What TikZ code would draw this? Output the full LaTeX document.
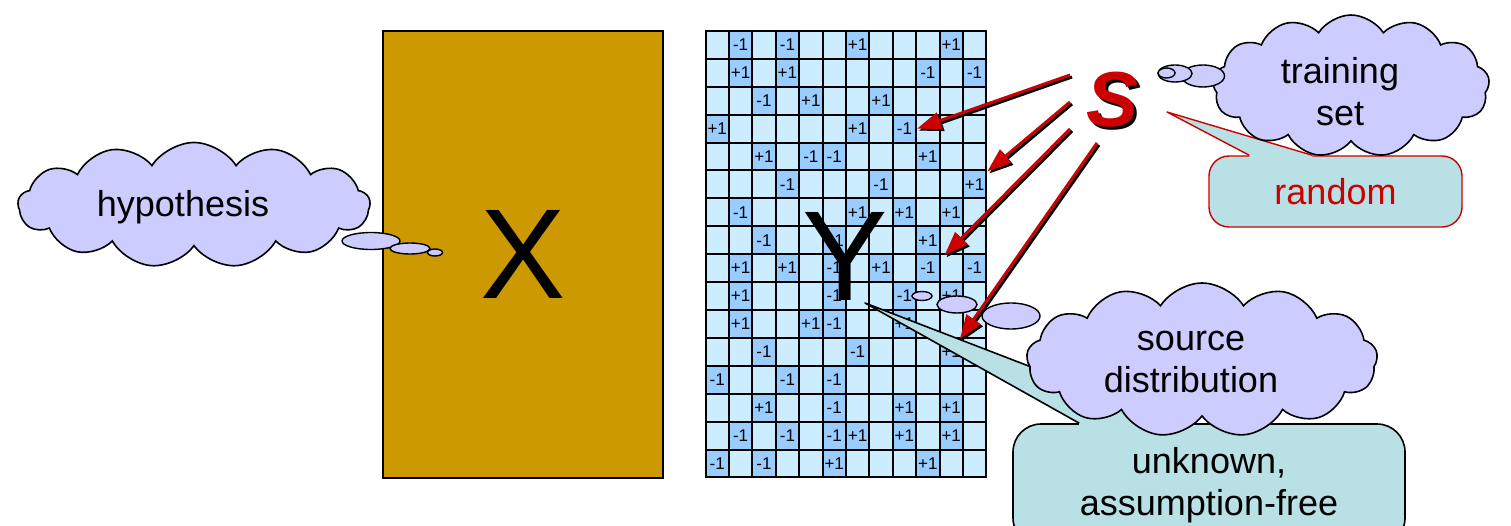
\documentclass[tikz,border=0pt]{standalone}
\usepackage{fontspec}
\setmainfont{Liberation Sans}
\usetikzlibrary{arrows.meta,calc,shapes.symbols,shapes.geometric}
\definecolor{boxochre}{RGB}{204,153,0}
\definecolor{celllight}{RGB}{204,236,255}
\definecolor{celldark}{RGB}{153,204,255}
\definecolor{cloudlilac}{RGB}{204,204,255}
\definecolor{calloutteal}{RGB}{185,224,228}
\definecolor{signalred}{RGB}{204,0,0}
\tikzset{
  thought/.style={cloud,cloud puffs=13,cloud puff arc=115,cloud ignores aspect,
    draw=black,line width=1.6pt,fill=cloudlilac,inner sep=0pt},
  cloudtext/.style={align=center,inner sep=0pt,font=\fontsize{36}{42}\selectfont},
  puff/.style={ellipse,draw=black,line width=1.4pt,fill=cloudlilac,inner sep=0pt},
  cellbox/.style={draw=black,line width=2pt,minimum width=23.4pt,
    minimum height=27.9pt,inner sep=0pt,fill=celllight,
    font=\fontsize{17}{17}\selectfont},
  marked/.style={cellbox,fill=celldark},
  notebox/.style={draw=black,line width=1.6pt,fill=calloutteal,align=center,
    rounded corners=28pt,font=\fontsize{36}{42}\selectfont},
  bigletter/.style={font=\fontsize{128}{128}\selectfont,inner sep=0pt},
  samplearrow/.style={-{Triangle[length=24pt,width=17pt]},line width=3pt,
    draw=signalred,fill=signalred},
  shadowarrow/.style={samplearrow,draw=black,fill=black}
}

\begin{document}
\begin{tikzpicture}[x=1pt,y=-1pt]
  \useasboundingbox (0,0) rectangle (1511,526);
  % instance space X
  \node[draw=black,line width=1.5pt,fill=boxochre,minimum width=280pt,
    minimum height=447pt,font=\fontsize{128}{128}\selectfont,inner sep=0pt]
    (xbox) at (523,254.5) {X};
  % label grid Y
  \foreach \r in {1,...,16}
    \foreach \c in {1,...,12}
      \node[cellbox] (cell-\r-\c) at ({705.5+23.4*(\c-0.5)},{31+27.9*(\r-0.5)}) {};
  \foreach \r/\c/\v in {1/2/-1,1/4/-1,1/7/+1,1/11/+1,2/2/+1,2/4/+1,2/10/-1,2/12/-1,
      3/3/-1,3/5/+1,3/8/+1,4/1/+1,4/7/+1,4/9/-1,5/3/+1,5/5/-1,5/6/-1,5/10/+1,
      6/4/-1,6/8/-1,6/12/+1,7/2/-1,7/7/+1,7/9/+1,7/11/+1,8/3/-1,8/6/+1,8/10/+1,
      9/2/+1,9/4/+1,9/6/-1,9/8/+1,9/10/-1,9/12/-1,10/2/+1,10/6/-1,10/9/-1,10/11/+1,
      11/2/+1,11/5/+1,11/6/-1,11/9/+1,12/3/-1,12/7/-1,12/11/+1,13/1/-1,13/4/-1,
      13/6/-1,14/3/+1,14/6/-1,14/9/+1,14/11/+1,15/2/-1,15/4/-1,15/6/-1,15/7/+1,
      15/9/+1,15/11/+1,16/1/-1,16/3/-1,16/6/+1,16/10/+1}
    \node[marked] at (cell-\r-\c) {\v};
  \node[bigletter] (ylabel) at (845,256) {Y};

  % hypothesis
  \node[thought,minimum width=352pt,minimum height=125pt] (hypo) at (194,205) {};
  \node[cloudtext] (hypo-text) at (183,207) {hypothesis};
  \node[puff,minimum width=58pt,minimum height=17pt] (hypo-p1) at (371,241) {};
  \node[puff,minimum width=40pt,minimum height=11pt] (hypo-p2) at (410,248.5) {};
  \node[puff,minimum width=15pt,minimum height=7pt] (hypo-p3) at (435,252.5) {};

  % source distribution and its note
  \coordinate (ytip) at (865,303);
  \node[notebox,minimum width=392pt,minimum height=122pt] (unknownbox)
    at (1209,485) {unknown,\\assumption-free};
  \coordinate (ub1) at ([xshift=67pt]unknownbox.north west);
  \coordinate (ub2) at ([xshift=165pt]unknownbox.north west);
  \fill[calloutteal] (ub1) -- (ytip) -- (ub2) -- ++(0,4) -- ($(ub1)+(0,4)$) -- cycle;
  \draw[line width=1.6pt,line join=round] (ub1) -- (ytip) -- (ub2);
  \node[thought,minimum width=351pt,minimum height=154pt] (source) at (1202,360) {};
  \node[cloudtext] (source-text) at (1191,362) {source\\distribution};
  \node[puff,minimum width=20pt,minimum height=9pt] (source-p1) at (922,296) {};
  \node[puff,minimum width=40pt,minimum height=17pt] (source-p2) at (957,304.5) {};
  \node[puff,minimum width=58pt,minimum height=26pt] (source-p3) at (1011,316) {};

  % training set and its note
  \coordinate (stip) at (1167,112);
  \node[notebox,draw=signalred,line width=1.4pt,rounded corners=20pt,
    text=signalred,minimum width=253pt,minimum height=71pt] (randombox)
    at (1335.5,191.5) {random};
  \coordinate (rb1) at ([xshift=41pt]randombox.north west);
  \coordinate (rb2) at ([xshift=104pt]randombox.north west);
  \fill[calloutteal] (rb1) -- (stip) -- (rb2) -- ++(0,4) -- ($(rb1)+(0,4)$) -- cycle;
  \draw[signalred,line width=1.4pt,line join=round] (rb1) -- (stip) -- (rb2);
  \node[thought,minimum width=277pt,minimum height=142pt] (training) at (1351,86) {};
  \node[cloudtext] (training-text) at (1340,92) {training\\set};
  \node[puff,minimum width=43pt,minimum height=22pt] (training-p1) at (1203,76) {};
  \node[puff,minimum width=34pt,minimum height=17pt] (training-p2) at (1175,73.5) {};
  \node[puff,minimum width=17pt,minimum height=10pt] (training-p3) at (1166.5,73) {};

  % sample S
  \node[font=\fontsize{78}{78}\bfseries\itshape\selectfont,inner sep=0pt]
    (sshadow) at (1115,103) {S};
  \node[font=\fontsize{78}{78}\bfseries\itshape\selectfont,inner sep=0pt,
    text=signalred] (sletter) at (1112,100) {S};
  \coordinate (s1) at (1070,75);
  \coordinate (s2) at (1070,102);
  \coordinate (s3) at (1070,129);
  \coordinate (s4) at (1097,143);
  \coordinate (t1) at (cell-4-9.east);
  \coordinate (t2) at (cell-5-12.south east);
  \coordinate (t3) at ([xshift=6pt]cell-8-11.south west);
  \coordinate (t4) at ([xshift=-4pt]cell-11-11.south east);
  \foreach \s/\t in {s1/t1,s2/t2,s3/t3,s4/t4}{
    \draw[shadowarrow] ([shift={(2,2)}]\s) -- ([shift={(2,2)}]\t);
    \draw[samplearrow] (\s) -- (\t);
  }
\end{tikzpicture}
\end{document}
